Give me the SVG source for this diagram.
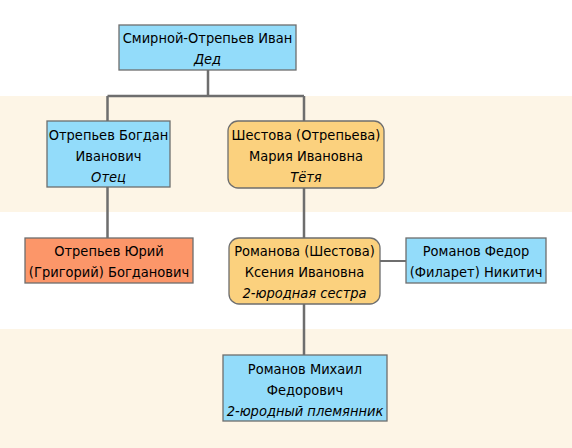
<svg xmlns="http://www.w3.org/2000/svg" width="572" height="448" viewBox="0 0 572 448">
<style>
.band{fill:#fdf5e6}
.blue{fill:#93dcfa;stroke:#6e6e6e;stroke-width:1.3}
.orange{fill:#fbd17e;stroke:#6e6e6e;stroke-width:1.3}
.red{fill:#fc9669;stroke:#6e6e6e;stroke-width:1.3}
text{font-family:"DejaVu Sans Condensed","DejaVu Sans",sans-serif;font-stretch:condensed;font-size:14.5px;fill:#000;text-anchor:middle;dominant-baseline:central}
.i{font-style:italic}
.c{fill:none;stroke:#6e6e6e;stroke-width:2.5}
.c2{fill:none;stroke:#6e6e6e;stroke-width:2}
</style>
<rect width="572" height="448" fill="#ffffff"/>
<rect class="band" x="0" y="96" width="572" height="116"/>
<rect class="band" x="0" y="329" width="572" height="119"/>
<g id="connectors">
<path class="c" d="M208 70V96M107.5 96H304M107.5 96V121M304 96V121M107.5 187V238M304 188V238M304 304V355"/>
<path class="c2" d="M380 261H406"/>
</g>
<g id="n1"><rect class="blue" x="119" y="25" width="177" height="45"/><text x="207.5" y="38">Смирной-Отрепьев Иван</text><text class="i" x="207.5" y="59">Дед</text></g>
<g id="n2"><rect class="blue" x="47" y="121" width="123" height="66"/><text x="108.5" y="135">Отрепьев Богдан</text><text x="108.5" y="156">Иванович</text><text class="i" x="108.5" y="177">Отец</text></g>
<g id="n3"><rect class="orange" x="228" y="121" width="156" height="67" rx="10"/><text x="306" y="135">Шестова (Отрепьева)</text><text x="306" y="156">Мария Ивановна</text><text class="i" x="306" y="177">Тётя</text></g>
<g id="n4"><rect class="red" x="25" y="238" width="168" height="45"/><text x="109" y="251">Отрепьев Юрий</text><text x="109" y="272">(Григорий) Богданович</text></g>
<g id="n5"><rect class="orange" x="229" y="238" width="151" height="66" rx="10"/><text x="304.5" y="251">Романова (Шестова)</text><text x="304.5" y="272">Ксения Ивановна</text><text class="i" x="304.5" y="293">2-юродная сестра</text></g>
<g id="n6"><rect class="blue" x="406" y="238" width="140" height="45"/><text x="476" y="251">Романов Федор</text><text x="476" y="272">(Филарет) Никитич</text></g>
<g id="n7"><rect class="blue" x="223" y="355" width="164" height="66"/><text x="305" y="369">Романов Михаил</text><text x="305" y="390">Федорович</text><text class="i" x="305" y="411">2-юродный племянник</text></g>
</svg>
